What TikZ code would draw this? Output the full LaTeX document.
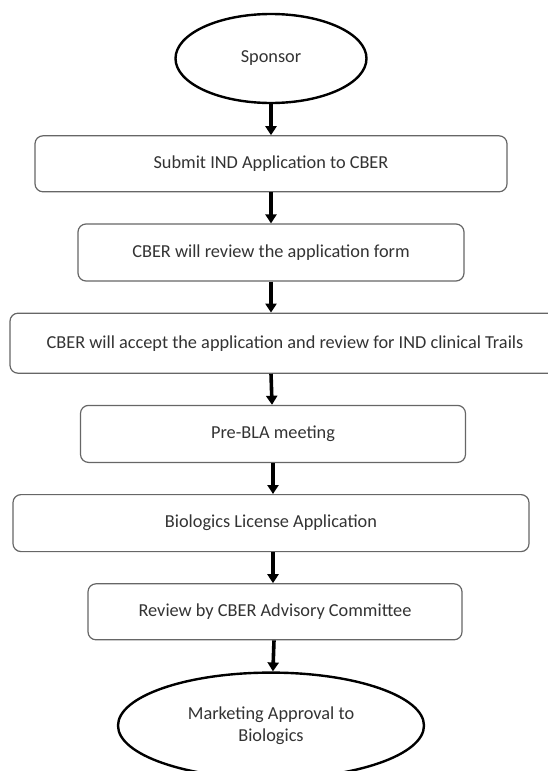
\documentclass[tikz,border=0pt]{standalone}
\usepackage{fontspec}
\setmainfont{Carlito}
\usetikzlibrary{arrows.meta,positioning,shapes.geometric}

\begin{document}
\begin{tikzpicture}[%
    >={Triangle[width=11pt,length=9pt]},  % heavy black arrows
    node distance=31pt,                   % gap between boxes
    every node/.style={font={\fontsize{18.3}{22}\selectfont}, text=black!80},
    ]

\tikzset{
    base/.style={draw, align=center, fill=white},
    proc/.style={base, rectangle, rounded corners=8pt, draw=black!60, line width=1.2pt, minimum height=56pt},
    term/.style={base, ellipse, line width=2.4pt, draw=black, inner sep=0pt},
    flow/.style={->, line width=3.6pt, black},
}

\useasboundingbox (0,0) rectangle (548pt,-771pt);

%% Start
\node [term, minimum width=191pt, minimum height=89pt] (sponsor) at (271pt,-58.5pt) {Sponsor};

\node [proc, below=of sponsor, minimum width=472pt] (submit) {Submit IND Application to CBER};
    \draw[flow] (sponsor) -- (submit);
\node [proc, below=of submit, minimum width=386pt, minimum height=57pt] (review) {CBER will review the application form};
    \draw[flow] (submit) -- (review);
\node [proc, below=of review, xshift=14pt, minimum width=550pt, minimum height=60pt] (accept) {CBER will accept the application and review for IND clinical Trails};
    \draw[flow] (review) -- (review |- accept.north);
\node [proc, below=of accept, xshift=-12pt, minimum width=385pt, minimum height=57pt] (prebla) {Pre-BLA meeting};
    \draw[flow] (review |- accept.south) -- (prebla);
\node [proc, below=of prebla, xshift=-2pt, minimum width=516pt, minimum height=57pt] (bla) {Biologics License Application};
    \draw[flow] (prebla) -- (prebla |- bla.north);
\node [proc, below=of bla, xshift=4pt, minimum width=374pt] (committee) {Review by CBER Advisory Committee};
    \draw[flow] (prebla |- bla.south) -- (prebla |- committee.north);

%% End
\node [term, below=of committee, xshift=-4pt, minimum width=306pt, minimum height=106pt] (approval) {Marketing Approval to\\Biologics};
    \draw[flow] (committee) -- (approval);
\end{tikzpicture}
\end{document}
